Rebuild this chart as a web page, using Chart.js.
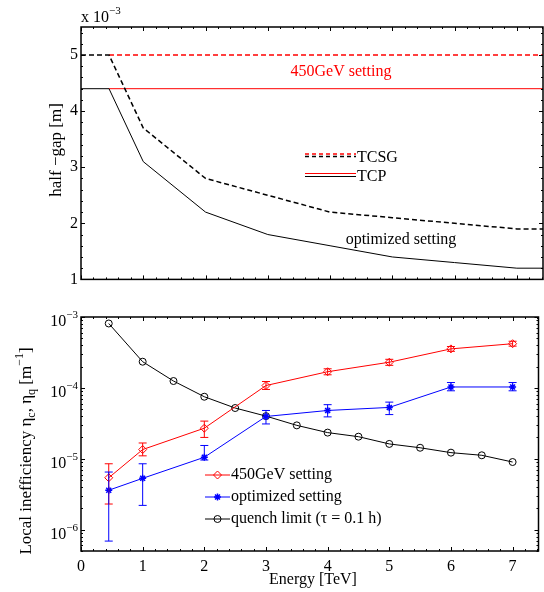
<!DOCTYPE html>
<html>
<head>
<meta charset="utf-8">
<script src="https://cdn.jsdelivr.net/npm/chart.js@4.4.0/dist/chart.umd.min.js"></script>
<style>
body { margin: 0; background: #fff; }
#wrap { position: relative; width: 544px; height: 592px; }
#gap { position: absolute; left: 0; top: 0; }
#eff { position: absolute; left: 0; top: 292px; }
</style>
</head>
<body>
<div id="wrap">
  <canvas id="gap" width="544" height="292"></canvas>
  <canvas id="eff" width="544" height="300"></canvas>
</div>
<script>
// --- upper panel: collimator half-gaps (units of 1e-3 m)
var gapEnergy = [0, 0.45, 1, 2, 3, 4, 5, 6, 7, 7.45];
var tcsgOptimized = [5, 5, 3.7, 2.8, 2.5, 2.2, 2.1, 2.0, 1.9, 1.9];
var tcpOptimized = [4.4, 4.4, 3.1, 2.2, 1.8, 1.6, 1.4, 1.3, 1.2, 1.2];
var energy450 = [0.45, 7.45];
var tcsg450 = [5, 5];
var tcp450 = [4.4, 4.4];
var gapTicks = [1, 2, 3, 4, 5];

// --- lower panel: local inefficiency
var effEnergy = [0.45, 1, 2, 3, 4, 5, 6, 7];
var eff450 = [5.4e-6, 1.35e-5, 2.7e-5, 1.08e-4, 1.69e-4, 2.3e-4, 3.55e-4, 4.2e-4];
var eff450Lo = [2.3e-6, 1.1e-5, 2.0e-5, 9.5e-5, 1.53e-4, 2.08e-4, 3.28e-4, 3.88e-4];
var eff450Hi = [8.5e-6, 1.67e-5, 3.4e-5, 1.23e-4, 1.86e-4, 2.53e-4, 3.83e-4, 4.55e-4];
var effOpt = [3.6e-6, 5.3e-6, 1.05e-5, 3.95e-5, 4.8e-5, 5.3e-5, 1.03e-4, 1.03e-4];
var effOptLo = [6.9e-7, 2.2e-6, 9.6e-6, 3.1e-5, 3.9e-5, 4.2e-5, 9.1e-5, 9.1e-5];
var effOptHi = [6.5e-6, 8.5e-6, 1.54e-5, 4.8e-5, 5.8e-5, 6.3e-5, 1.19e-4, 1.19e-4];
var quenchEnergy = [0.45, 1, 1.5, 2, 2.5, 3, 3.5, 4, 4.5, 5, 5.5, 6, 6.5, 7];
var quenchLimit = [8.1e-4, 2.34e-4, 1.25e-4, 7.5e-5, 5.2e-5, 4.0e-5, 2.96e-5, 2.34e-5, 2.05e-5, 1.62e-5, 1.43e-5, 1.22e-5, 1.12e-5, 9.0e-6];
var effDecades = [1e-6, 1e-5, 1e-4, 1e-3];
var effDecadeLabels = ['\u22126', '\u22125', '\u22124', '\u22123'];

var energyTicks = [0, 1, 2, 3, 4, 5, 6, 7];
var X_MAX = 7.42;

Chart.defaults.font.family = 'Liberation Serif';
Chart.defaults.font.size = 16;
Chart.defaults.color = '#000';

function pts(xs, ys) {
    return xs.map(function (x, i) { return { x: x, y: ys[i] }; });
}

// minor tick positions
var xMinor = [];
for (var i = 1; i * 0.2 < X_MAX; i++) { if (i % 5) xMinor.push(i * 0.2); }
var gapMinor = [];
for (var j = 6; j < 28; j++) { if (j % 5) gapMinor.push(j * 0.2); }
var effMinor = [];
[1e-7, 1e-6, 1e-5, 1e-4].forEach(function (d) {
    for (var k = 2; k <= 9; k++) { if (k * d >= 5e-7 && k * d < 1e-3) effMinor.push(k * d); }
});

// box with inward ticks on all sides
var frameTicks = {
    id: 'frameTicks',
    afterDraw: function (chart, args, opts) {
        var ctx = chart.ctx, a = chart.chartArea;
        var xs = chart.scales.x, ys = chart.scales.y;
        ctx.save();
        ctx.strokeStyle = '#000';
        ctx.lineWidth = 1;
        function xt(list, len) {
            list.forEach(function (v) {
                var p = Math.round(xs.getPixelForValue(v)) + 0.5;
                ctx.beginPath();
                ctx.moveTo(p, a.bottom); ctx.lineTo(p, a.bottom - len);
                ctx.moveTo(p, a.top); ctx.lineTo(p, a.top + len);
                ctx.stroke();
            });
        }
        function yt(list, len) {
            list.forEach(function (v) {
                var p = Math.round(ys.getPixelForValue(v)) + 0.5;
                ctx.beginPath();
                ctx.moveTo(a.left, p); ctx.lineTo(a.left + len, p);
                ctx.moveTo(a.right, p); ctx.lineTo(a.right - len, p);
                ctx.stroke();
            });
        }
        xt(opts.xMajor, 4); xt(opts.xMinor, 2);
        yt(opts.yMajor, 4); yt(opts.yMinor, 2);
        ctx.lineWidth = 1.5;
        ctx.strokeRect(a.left, a.top, a.right - a.left, a.bottom - a.top);
        ctx.restore();
    }
};

// text with sub/superscripts: parts = [[text, shift]] shift: 0 normal, 1 sup, -1 sub
function richText(ctx, parts, x, y, size, align) {
    var small = Math.round(size * 0.7);
    var w = 0;
    parts.forEach(function (p) {
        ctx.font = (p[1] ? small : size) + 'px "Liberation Serif"';
        w += ctx.measureText(p[0]).width;
    });
    var cx = align === 'center' ? x - w / 2 : x;
    ctx.textAlign = 'left';
    ctx.textBaseline = 'middle';
    parts.forEach(function (p) {
        ctx.font = (p[1] ? small : size) + 'px "Liberation Serif"';
        var dy = p[1] === 1 ? -size * 0.42 : (p[1] === -1 ? size * 0.3 : 0);
        ctx.fillText(p[0], cx, y + dy);
        cx += ctx.measureText(p[0]).width;
    });
}

var gapText = {
    id: 'gapText',
    afterDraw: function (chart) {
        var ctx = chart.ctx;
        ctx.save();
        ctx.fillStyle = '#000';
        richText(ctx, [['x 10', 0], ['\u22123', 1]], 81, 18, 16, 'left');
        ctx.save();
        ctx.translate(57, 150);
        ctx.rotate(-Math.PI / 2);
        richText(ctx, [['half \u2212gap [m]', 0]], 0, 0, 17, 'center');
        ctx.restore();
        ctx.fillStyle = '#ff0000';
        richText(ctx, [['450GeV setting', 0]], 341, 72, 16, 'center');
        ctx.fillStyle = '#000';
        richText(ctx, [['optimized setting', 0]], 401, 240, 16, 'center');
        // legend
        ctx.lineWidth = 1.5;
        ctx.setLineDash([4, 3]);
        ctx.strokeStyle = '#ff0000';
        ctx.beginPath(); ctx.moveTo(305, 154); ctx.lineTo(356, 154); ctx.stroke();
        ctx.strokeStyle = '#000';
        ctx.beginPath(); ctx.moveTo(305, 156.5); ctx.lineTo(356, 156.5); ctx.stroke();
        ctx.setLineDash([]);
        ctx.lineWidth = 1;
        ctx.strokeStyle = '#ff0000';
        ctx.beginPath(); ctx.moveTo(305, 173.5); ctx.lineTo(356, 173.5); ctx.stroke();
        ctx.strokeStyle = '#000';
        ctx.beginPath(); ctx.moveTo(305, 176.5); ctx.lineTo(356, 176.5); ctx.stroke();
        richText(ctx, [['TCSG', 0]], 357, 158, 16, 'left');
        richText(ctx, [['TCP', 0]], 357, 177, 16, 'left');
        ctx.restore();
    }
};

new Chart(document.getElementById('gap'), {
    type: 'line',
    data: {
        datasets: [
            { data: pts(gapEnergy, tcsgOptimized), borderColor: '#000', borderWidth: 1.5, borderDash: [5, 3], pointRadius: 0, order: 1 },
            { data: pts(gapEnergy, tcpOptimized), borderColor: '#000', borderWidth: 1, pointRadius: 0, order: 1 },
            { data: pts(energy450, tcsg450), borderColor: '#ff0000', borderWidth: 1.5, borderDash: [5, 3], pointRadius: 0, order: 2 },
            { data: pts(energy450, tcp450), borderColor: '#ff0000', borderWidth: 1, pointRadius: 0, order: 2 }
        ]
    },
    options: {
        responsive: false,
        animation: false,
        layout: { padding: { top: 27, right: 1, left: 0, bottom: 0 } },
        plugins: {
            legend: { display: false },
            tooltip: { enabled: false },
            frameTicks: { xMajor: energyTicks, xMinor: xMinor, yMajor: gapTicks, yMinor: gapMinor }
        },
        scales: {
            x: {
                type: 'linear', min: 0, max: X_MAX,
                grid: { display: false, drawTicks: false }, border: { display: false },
                ticks: { display: false },
                afterFit: function (s) { s.height = 12; }
            },
            y: {
                type: 'linear', min: 1, max: 5.5,
                grid: { display: false, drawTicks: false }, border: { display: false },
                ticks: { padding: 3, color: '#000' },
                afterBuildTicks: function (s) { s.ticks = gapTicks.map(function (v) { return { value: v }; }); },
                afterFit: function (s) { s.width = 81; }
            }
        }
    },
    plugins: [frameTicks, gapText]
});

// error bars from dataset.errLo / errHi
var errorBars = {
    id: 'errorBars',
    afterDatasetsDraw: function (chart) {
        var ctx = chart.ctx, xs = chart.scales.x, ys = chart.scales.y;
        ctx.save();
        ctx.lineWidth = 1;
        chart.data.datasets.forEach(function (ds) {
            if (!ds.errLo) return;
            ctx.strokeStyle = ds.borderColor;
            ds.data.forEach(function (p, i) {
                var x = xs.getPixelForValue(p.x);
                var y1 = ys.getPixelForValue(ds.errLo[i]);
                var y2 = ys.getPixelForValue(ds.errHi[i]);
                ctx.beginPath();
                ctx.moveTo(x, y1); ctx.lineTo(x, y2);
                ctx.moveTo(x - 4, y1); ctx.lineTo(x + 4, y1);
                ctx.moveTo(x - 4, y2); ctx.lineTo(x + 4, y2);
                ctx.stroke();
            });
        });
        ctx.restore();
    }
};

var effText = {
    id: 'effText',
    afterDraw: function (chart) {
        var ctx = chart.ctx, ys = chart.scales.y;
        ctx.save();
        ctx.fillStyle = '#000';
        // log tick labels 10^n
        effDecades.forEach(function (v, i) {
            var y = ys.getPixelForValue(v);
            ctx.font = '11px "Liberation Serif"';
            var ws = ctx.measureText(effDecadeLabels[i]).width;
            ctx.font = '16px "Liberation Serif"';
            var wb = ctx.measureText('10').width;
            richText(ctx, [['10', 0], [effDecadeLabels[i], 1]], 78 - ws - wb, y + 5, 16, 'left');
        });
        ctx.save();
        ctx.translate(27, 159);
        ctx.rotate(-Math.PI / 2);
        richText(ctx, [['Local inefficiency \u03b7', 0], ['c', -1], [', \u03b7', 0], ['q', -1], [' [m', 0], ['\u22121', 1], [']', 0]], 0, 0, 17, 'center');
        ctx.restore();
        richText(ctx, [['Energy [TeV]', 0]], 313, 288, 16, 'center');
        // legend
        chart.data.datasets.forEach(function (ds, i) {
            var y = 183 + i * 22;
            ctx.strokeStyle = ds.borderColor;
            ctx.lineWidth = 1;
            ctx.beginPath(); ctx.moveTo(205, y); ctx.lineTo(230, y); ctx.stroke();
            ctx.fillStyle = ds.pointBackgroundColor;
            ctx.strokeStyle = ds.pointBorderColor;
            ctx.lineWidth = ds.pointBorderWidth;
            Chart.helpers.drawPoint(ctx, {
                pointStyle: ds.pointStyle, radius: ds.pointRadius, borderWidth: ds.pointBorderWidth,
                rotation: 0
            }, 217.5, y);
            ctx.fillStyle = '#000';
            richText(ctx, [[ds.label, 0]], 231, y, 16, 'left');
        });
        ctx.restore();
    }
};

new Chart(document.getElementById('eff'), {
    type: 'line',
    data: {
        datasets: [
            { label: '450GeV setting', data: pts(effEnergy, eff450), errLo: eff450Lo, errHi: eff450Hi,
              borderColor: '#ff0000', borderWidth: 1, pointStyle: 'rectRot', pointRadius: 4, pointBorderWidth: 1,
              pointBackgroundColor: 'rgba(0,0,0,0)', pointBorderColor: '#ff0000' },
            { label: 'optimized setting', data: pts(effEnergy, effOpt), errLo: effOptLo, errHi: effOptHi,
              borderColor: '#0000ff', borderWidth: 1, pointStyle: 'star', pointRadius: 3.5, pointBorderWidth: 1.5,
              pointBackgroundColor: '#0000ff', pointBorderColor: '#0000ff' },
            { label: 'quench limit (\u03c4 = 0.1 h)', data: pts(quenchEnergy, quenchLimit),
              borderColor: '#000', borderWidth: 1, pointStyle: 'circle', pointRadius: 3.5, pointBorderWidth: 1,
              pointBackgroundColor: 'rgba(0,0,0,0)', pointBorderColor: '#000' }
        ]
    },
    options: {
        responsive: false,
        animation: false,
        layout: { padding: { top: 25, right: 1, left: 0, bottom: 0 } },
        plugins: {
            legend: { display: false },
            tooltip: { enabled: false },
            frameTicks: { xMajor: energyTicks, xMinor: xMinor, yMajor: effDecades, yMinor: effMinor }
        },
        scales: {
            x: {
                type: 'linear', min: 0, max: X_MAX,
                grid: { display: false, drawTicks: false }, border: { display: false },
                ticks: { padding: 6, color: '#000', maxRotation: 0 },
                afterBuildTicks: function (s) { s.ticks = energyTicks.map(function (v) { return { value: v }; }); },
                afterFit: function (s) { s.height = 41; }
            },
            y: {
                type: 'logarithmic', min: 5e-7, max: 1e-3,
                grid: { display: false, drawTicks: false }, border: { display: false },
                ticks: { display: false },
                afterFit: function (s) { s.width = 81; }
            }
        }
    },
    plugins: [frameTicks, errorBars, effText]
});
</script>
</body>
</html>
